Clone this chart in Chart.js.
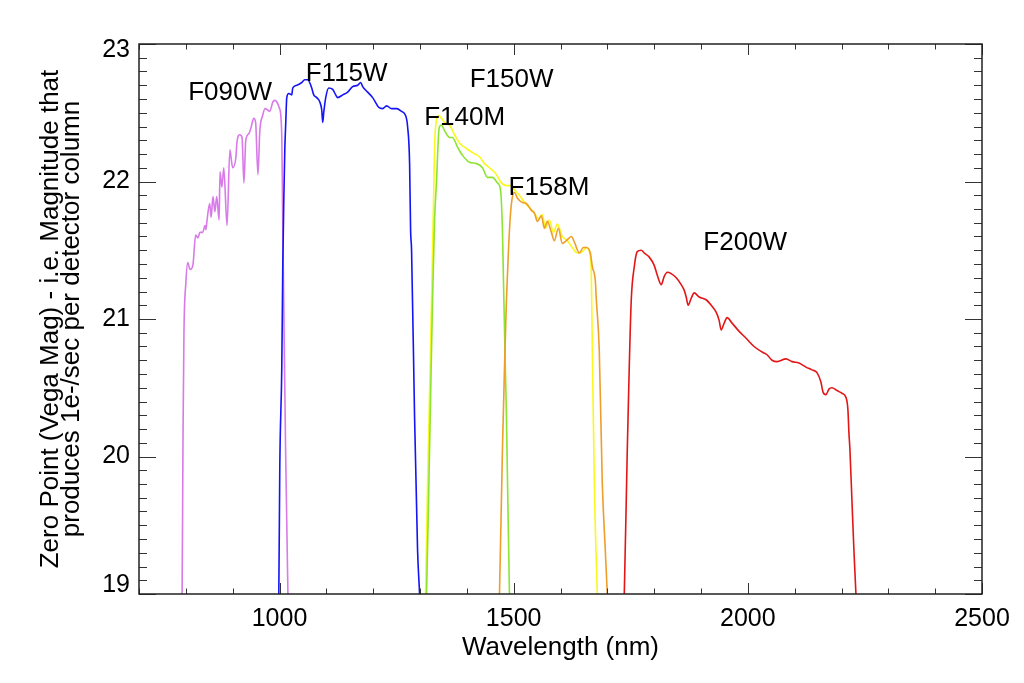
<!DOCTYPE html>
<html>
<head>
<meta charset="utf-8">
<script src="https://cdn.jsdelivr.net/npm/chart.js@4.4.1/dist/chart.umd.min.js"></script>
<style>
  html, body { margin: 0; padding: 0; background: #fff; }
  #wrap { width: 1024px; height: 683px; }
</style>
</head>
<body>
<div id="wrap"><canvas id="c" width="1024" height="683"></canvas></div>
<script>
// ---------- Data (wavelength in nm, zero point in Vega mag) ----------
const F090W_NM  = [789,792,794,796,800,804,809,815,821,826,830,836,841,843,845,851,854,858,862,866,871,873,877,881,888,894,900,907,909,915,920,924,928,935,939,945,949,954,958,964,969,975,979,986,990,994,999,1003,1005,1006,1007,1009,1013,1018,1020];
const F090W_MAG = [18.81,19.0,20.17,20.90,21.26,21.41,21.36,21.39,21.61,21.59,21.63,21.63,21.68,21.65,21.71,21.84,21.74,21.89,21.78,21.89,21.72,22.07,21.96,22.10,21.68,22.23,22.10,22.18,22.28,22.34,22.32,21.99,22.30,22.35,22.39,22.46,22.43,22.05,22.37,22.48,22.53,22.52,22.51,22.58,22.59,22.58,22.54,22.47,22.30,22.01,21.65,21.14,20.05,19.0,18.81];

const F115W_NM  = [996,998.5,1000.6,1004.9,1007,1009.2,1011.3,1013.4,1015.5,1019.8,1026.2,1028.3,1036.9,1047.5,1053.9,1060.3,1068.8,1073.1,1079.5,1085.9,1090.2,1092.3,1094.4,1098.7,1105.1,1113.6,1120,1124.3,1134.9,1145.6,1156.2,1166.9,1173.3,1177.6,1188.2,1198.9,1211.7,1220.2,1228.7,1239.4,1250,1260.7,1269.2,1273.5,1277.8,1279.9,1282,1288.4,1294.8,1299.1,1301.2];
const F115W_MAG = [18.81,19.0,19.92,20.65,21.38,21.87,22.23,22.43,22.61,22.64,22.63,22.68,22.70,22.72,22.74,22.74,22.68,22.63,22.61,22.58,22.52,22.43,22.50,22.61,22.68,22.67,22.63,22.61,22.63,22.65,22.69,22.70,22.72,22.69,22.65,22.61,22.54,22.53,22.55,22.53,22.53,22.51,22.48,22.40,22.13,21.65,21.50,20.29,19.32,19.0,18.81];

const F140M_NM  = [1311.9,1314,1320.4,1326.8,1331.1,1335.4,1339.6,1341.7,1346,1352.4,1363.1,1369.4,1380.1,1390.8,1405.7,1420.6,1433.4,1444.1,1454.7,1465.4,1471.8,1476,1478.2,1481.4,1484.6,1491,1493.1];
const F140M_MAG = [18.81,19.0,20.05,21.14,21.72,22.01,22.34,22.40,22.41,22.37,22.32,22.32,22.25,22.19,22.14,22.13,22.10,22.03,22.03,21.99,21.94,21.65,21.28,20.77,20.29,19.0,18.81];

const F150W_NM  = [1309.8,1311.9,1316.2,1322.5,1326.8,1329,1331.1,1335.4,1339.6,1346,1352.4,1363.1,1373.7,1384.4,1399.3,1412.1,1427,1437.7,1448.3,1463.3,1473.9,1484.6,1495.2,1501.6,1512.3,1522.9,1533.6,1544.3,1552.8,1561.3,1567.7,1576.3,1584.8,1593.3,1604,1614.6,1625.3,1636,1646.6,1655.1,1663.7,1665.8,1668,1672.2,1678.6,1680.7];
const F150W_MAG = [18.81,19.0,19.81,20.77,21.50,21.87,22.25,22.45,22.48,22.46,22.43,22.41,22.34,22.28,22.24,22.21,22.18,22.13,22.10,22.05,21.99,21.97,21.97,21.94,21.90,21.85,21.81,21.77,21.73,21.76,21.66,21.72,21.63,21.69,21.60,21.57,21.52,21.48,21.49,21.52,21.45,21.33,20.77,19.81,19.0,18.81];

const F158M_NM  = [1467.5,1469.7,1476,1480.3,1484.6,1488.9,1493.1,1497.4,1501.6,1508,1516.6,1527.2,1537.9,1544.3,1550.7,1559.2,1565.6,1572,1580.5,1586.9,1595.4,1604,1612.5,1623.2,1629.6,1640.2,1648.7,1655.1,1663.7,1668,1674.3,1676.5,1682.8,1689.2,1695.6,1699.9,1702];
const F158M_MAG = [18.81,19.0,20.05,20.63,21.14,21.50,21.76,21.89,21.92,21.88,21.85,21.84,21.79,21.77,21.71,21.75,21.66,21.71,21.63,21.57,21.66,21.55,21.57,21.60,21.56,21.48,21.52,21.52,21.48,21.38,21.28,21.14,20.77,19.81,19.32,19.0,18.81];

const F200W_NM  = [1734,1736.2,1742.6,1746.8,1751.1,1757.5,1763.9,1772.4,1778.8,1789.5,1800.1,1806.5,1815.1,1821.5,1827.9,1836.4,1847.1,1857.7,1864.1,1868.4,1872.6,1879,1885.4,1896.1,1911,1921.7,1932.3,1938.7,1943,1949.4,1955.8,1966.4,1981.4,1996.3,2013.3,2030.4,2041,2051.7,2062.4,2081.5,2094.3,2109.3,2124.2,2137,2147.6,2156.2,2160.4,2166.8,2173.2,2179.6,2190.3,2200.9,2209.5,2213.7,2215.9,2218,2222.3,2226.5,2230.8,2232.9];
const F200W_MAG = [18.81,19.0,20.05,20.65,21.14,21.38,21.49,21.50,21.48,21.45,21.39,21.32,21.25,21.31,21.34,21.33,21.30,21.25,21.21,21.16,21.10,21.15,21.19,21.16,21.14,21.10,21.05,20.99,20.92,20.97,21.01,20.97,20.91,20.86,20.80,20.76,20.74,20.70,20.69,20.71,20.69,20.68,20.65,20.63,20.61,20.54,20.47,20.45,20.49,20.50,20.48,20.46,20.43,20.34,20.17,20.05,19.68,19.32,19.0,18.81];

// filter names and where their labels sit (left edge nm, baseline mag)
const FILTERS     = ['F090W','F115W','F140M','F150W','F158M','F200W'];
const LABEL_NM    = [805, 1056, 1309, 1406, 1489, 1905];
const LABEL_MAG   = [22.59, 22.73, 22.41, 22.69, 21.90, 21.50];

// axes
const X_MIN = 700, X_MAX = 2500, X_TICKS = [1000, 1500, 2000, 2500], X_MINOR_STEP = 100;
const Y_MIN = 19,  Y_MAX = 23,   Y_TICKS = [19, 20, 21, 22, 23],     Y_MINOR_STEP = 0.1;
const X_TITLE = 'Wavelength (nm)';
const Y_TITLE = ['Zero Point (Vega Mag) - i.e. Magnitude that', 'produces 1e-/sec per detector column'];

// ---------- Chart ----------
const FONT = '"Liberation Sans", Arial, Helvetica, sans-serif';
Chart.defaults.font.family = FONT;
Chart.defaults.color = '#000';

function pts(xs, ys) { return xs.map((x, i) => ({ x: x, y: ys[i] })); }

const SERIES = [
  { label: 'F090W', nm: F090W_NM, mag: F090W_MAG, color: 'rgb(216,122,232)', order: 6 },
  { label: 'F115W', nm: F115W_NM, mag: F115W_MAG, color: 'rgb(20,20,245)',   order: 5 },
  { label: 'F150W', nm: F150W_NM, mag: F150W_MAG, color: 'rgb(250,248,30)',  order: 4 },
  { label: 'F140M', nm: F140M_NM, mag: F140M_MAG, color: 'rgb(140,228,50)',  order: 3 },
  { label: 'F158M', nm: F158M_NM, mag: F158M_MAG, color: 'rgb(238,158,42)',  order: 2 },
  { label: 'F200W', nm: F200W_NM, mag: F200W_MAG, color: 'rgb(226,22,22)',   order: 1 }
];

const frameTicks = {
  id: 'frameTicks',
  afterDatasetsDraw(chart) {
    const ctx = chart.ctx, ca = chart.chartArea;
    const xs = chart.scales.x, ys = chart.scales.y;
    ctx.save();
    ctx.strokeStyle = '#333';
    ctx.lineWidth = 1;
    ctx.beginPath();
    const nX = Math.round((X_MAX - X_MIN) / X_MINOR_STEP);
    for (let i = 0; i <= nX; i++) {
      const v = X_MIN + i * X_MINOR_STEP;
      const p = Math.round(xs.getPixelForValue(v)) + 0.5;
      const len = X_TICKS.includes(v) ? 11 : 5.5;
      ctx.moveTo(p, ca.bottom); ctx.lineTo(p, ca.bottom - len);
      ctx.moveTo(p, ca.top);    ctx.lineTo(p, ca.top + len);
    }
    const nY = Math.round((Y_MAX - Y_MIN) / Y_MINOR_STEP);
    for (let i = 0; i <= nY; i++) {
      const v = Math.round((Y_MIN + i * Y_MINOR_STEP) * 10) / 10;
      const p = Math.round(ys.getPixelForValue(v)) + 0.5;
      const len = Y_TICKS.includes(v) ? 17 : 8;
      ctx.moveTo(ca.left, p);  ctx.lineTo(ca.left + len, p);
      ctx.moveTo(ca.right, p); ctx.lineTo(ca.right - len, p);
    }
    ctx.stroke();
    ctx.lineWidth = 1.5;
    ctx.strokeStyle = '#222';
    ctx.strokeRect(ca.left, ca.top, ca.right - ca.left, ca.bottom - ca.top);
    // filter name labels
    ctx.fillStyle = '#000';
    ctx.font = '26px ' + FONT;
    ctx.textAlign = 'left';
    ctx.textBaseline = 'alphabetic';
    FILTERS.forEach((name, i) => {
      ctx.fillText(name, xs.getPixelForValue(LABEL_NM[i]), ys.getPixelForValue(LABEL_MAG[i]));
    });
    ctx.restore();
  }
};

new Chart(document.getElementById('c'), {
  type: 'line',
  data: {
    datasets: SERIES.map(s => ({
      label: s.label,
      data: pts(s.nm, s.mag),
      borderColor: s.color,
      backgroundColor: s.color,
      borderWidth: 1.6,
      pointRadius: 0,
      fill: false,
      cubicInterpolationMode: 'monotone',
      order: s.order
    }))
  },
  options: {
    responsive: false,
    animation: false,
    devicePixelRatio: 1,
    layout: { padding: { top: 44, right: 42, left: 0, bottom: 0 } },
    plugins: { legend: { display: false }, tooltip: { enabled: false } },
    scales: {
      x: {
        type: 'linear', min: X_MIN, max: X_MAX,
        afterBuildTicks: (s) => { s.ticks = X_TICKS.map(v => ({ value: v })); },
        afterFit: (s) => { s.height = 89; },
        grid: { display: false, drawTicks: false },
        border: { display: false },
        ticks: { padding: 10, maxRotation: 0, autoSkip: false, font: { size: 25 }, color: '#000',
                 callback: (v) => String(v) },
        title: { display: true, text: X_TITLE, font: { size: 26 }, color: '#000', padding: { top: 0, bottom: 20 } }
      },
      y: {
        type: 'linear', min: Y_MIN, max: Y_MAX,
        afterBuildTicks: (s) => { s.ticks = Y_TICKS.map(v => ({ value: v })); },
        afterFit: (s) => { s.width = 139; },
        grid: { display: false, drawTicks: false },
        border: { display: false },
        ticks: {
          padding: 9, autoSkip: false, color: '#000',
          // end labels sit just inside the frame, as in the original plot
          font: (ctx) => {
            const v = ctx.tick ? ctx.tick.value : null;
            if (v === Y_MAX) return { size: 25, lineHeight: '13px' };
            if (v === Y_MIN) return { size: 25, lineHeight: '17px' };
            return { size: 25 };
          },
          callback: (v) => v === Y_MAX ? ['', String(v)] : (v === Y_MIN ? [String(v), ''] : String(v))
        },
        title: { display: true, text: Y_TITLE, font: { size: 26, lineHeight: 0.82 }, color: '#000', padding: { top: 40, bottom: 0 } }
      }
    }
  },
  plugins: [frameTicks]
});
</script>
</body>
</html>
